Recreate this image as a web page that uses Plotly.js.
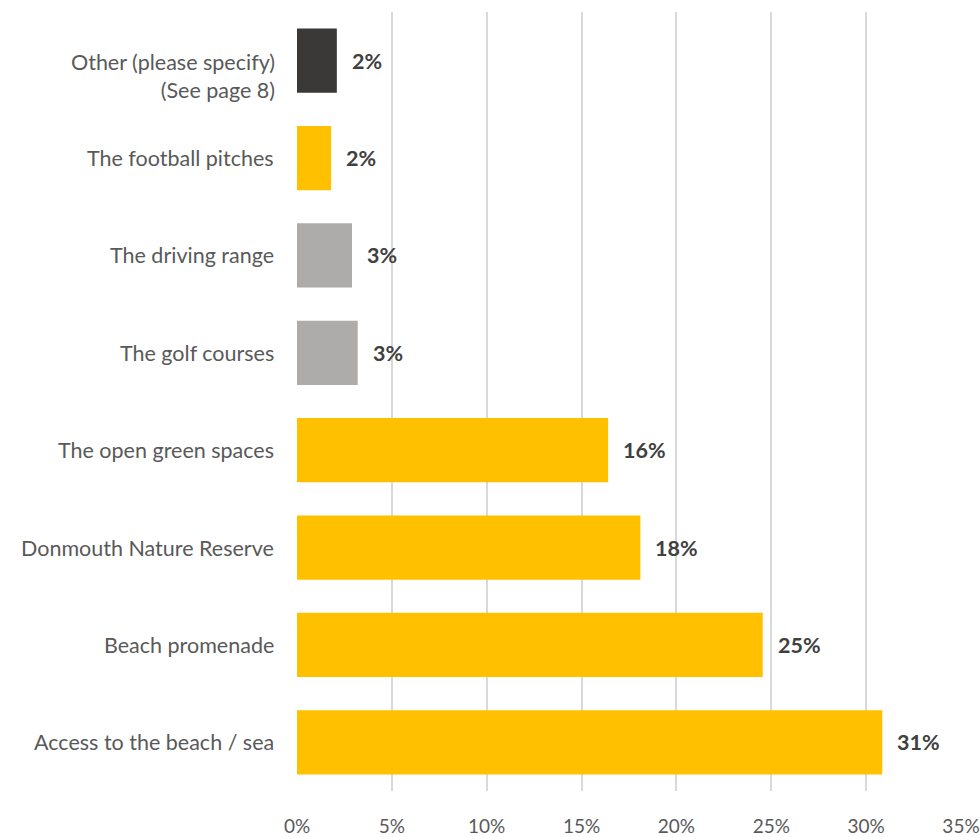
<!DOCTYPE html>
<html>
<head>
<meta charset="utf-8">
<script src="https://cdn.plot.ly/plotly-3.0.1.min.js"></script>
<style>html,body{margin:0;padding:0;background:#fff;}#chart{width:980px;height:837px;}</style>
</head>
<body>
<div id="chart"></div>
<script>
// Categories listed bottom to top
const categories = [
  "Access to the beach / sea",
  "Beach promenade",
  "Donmouth Nature Reserve",
  "The open green spaces",
  "The golf courses",
  "The driving range",
  "The football pitches",
  "Other (please specify)<br>(See page 8)"
];
const values = [30.85, 24.55, 18.1, 16.4, 3.2, 2.9, 1.8, 2.1];
const valueLabels = ["31%", "25%", "18%", "16%", "3%", "3%", "2%", "2%"];
const barColors = ["#FFC000", "#FFC000", "#FFC000", "#FFC000", "#AEABAB", "#AEABAB", "#FFC000", "#3B3838"];
const tickValues = [0, 5, 10, 15, 20, 25, 30, 35];
const tickLabels = ["0%", "5%", "10%", "15%", "20%", "25%", "30%", "35%"];

const FONT = "Lato, 'Open Sans', sans-serif";

const trace = {
  type: "bar",
  orientation: "h",
  x: values,
  y: categories,
  marker: {color: barColors},
  hoverinfo: "skip"
};

const valueAnnotations = values.map((v, i) => ({
  x: v, y: categories[i], xref: "x", yref: "y",
  text: "<b>" + valueLabels[i] + "</b>",
  showarrow: false, xanchor: "left", xshift: 13,
  font: {family: FONT, size: 21.5, color: "#404040"}
}));

const categoryAnnotations = categories.map((c, i) => ({
  x: 0, y: c, xref: "paper", yref: "y",
  text: c, showarrow: false,
  xanchor: "right", xshift: c.indexOf("<br>") >= 0 ? -20 : -21,
  yshift: c.indexOf("<br>") >= 0 ? -15 : 0,
  align: "right",
  font: {family: FONT, size: 21.5, color: "#595959"}
}));

const layout = {
  width: 980, height: 837,
  margin: {l: 297, r: 19, t: 12, b: 46},
  paper_bgcolor: "#fff", plot_bgcolor: "#fff",
  showlegend: false,
  bargap: 0.34,
  font: {family: FONT, size: 19, color: "#595959"},
  xaxis: {
    range: [0, 35],
    tickvals: tickValues, ticktext: tickLabels,
    showgrid: true, gridcolor: "#D9D9D9", gridwidth: 2,
    zeroline: false, showline: false,
    ticks: "", ticklabelstandoff: 22,
    tickfont: {size: 19, color: "#595959"}
  },
  yaxis: {
    type: "category",
    categoryorder: "array", categoryarray: categories,
    showgrid: false, zeroline: false, showline: false,
    ticks: "", showticklabels: false
  },
  annotations: valueAnnotations.concat(categoryAnnotations)
};

Plotly.newPlot("chart", [trace], layout, {displayModeBar: false, staticPlot: true});
</script>
</body>
</html>
